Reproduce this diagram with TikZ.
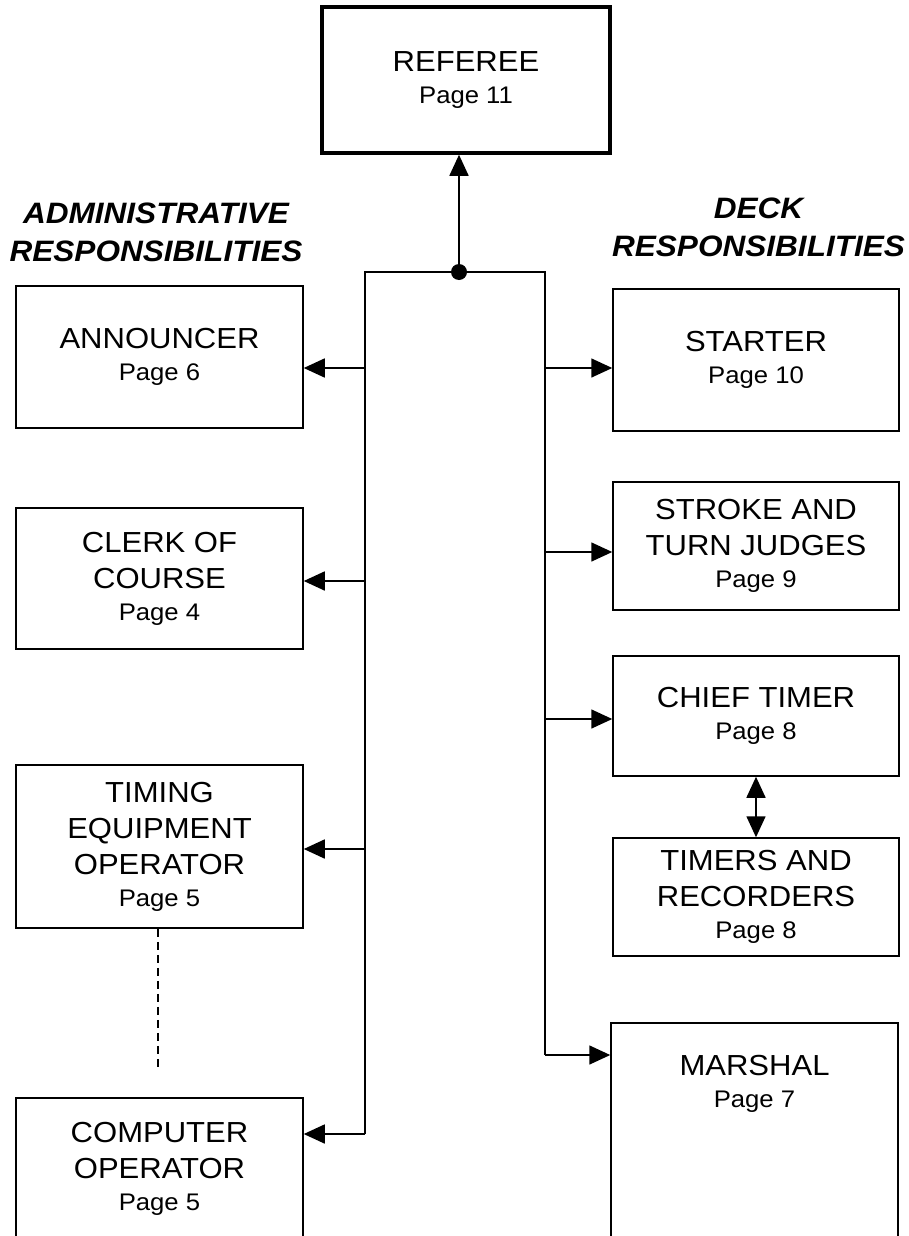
\documentclass[tikz,border=0pt]{standalone}
\usepackage{fontspec}
\setmainfont{Liberation Sans}[FakeStretch=1.07]
\usetikzlibrary{arrows.meta}
\newcommand{\pgline}[1]{\\[-4pt]{\fontsize{24}{29}\selectfont Page #1}}

\begin{document}
\begin{tikzpicture}[x=1pt,y=-1pt,
  boxtext/.style={align=center,inner sep=0pt,font=\fontsize{29}{36}\selectfont},
  box/.style={boxtext,draw,line width=1.5pt,minimum width=287pt},
  head/.style={align=center,font=\fontsize{29.5}{38}\selectfont\bfseries\itshape},
  conn/.style={line width=1.6pt},
  tip/.tip={Triangle[length=21pt,width=19pt]},
  arr/.style={conn,-tip}]
\useasboundingbox (0,0) rectangle (909,1236);
\clip (0,0) rectangle (909,1236);
% top
\node[box,line width=3.5pt,minimum width=288pt,minimum height=146pt] (referee) at (466,80) {REFEREE\pgline{11}};
\node[head] (admin) at (156,232.5) {ADMINISTRATIVE\\RESPONSIBILITIES};
\node[head] (deck) at (758.5,227.5) {DECK\\RESPONSIBILITIES};
% administrative side
\node[box,minimum height=142pt] (announcer) at (159.5,357) {ANNOUNCER\pgline{6}};
\node[box,minimum height=141pt] (clerk) at (159.5,578.5) {CLERK OF\\COURSE\pgline{4}};
\node[box,minimum height=163pt] (timing) at (159.5,846.5) {TIMING\\EQUIPMENT\\OPERATOR\pgline{5}};
\node[box,minimum height=141pt] (computer) at (159.5,1168.5) {COMPUTER\\OPERATOR\pgline{5}};
% deck side
\node[box,minimum width=286pt,minimum height=142pt] (starter) at (756,360) {STARTER\pgline{10}};
\node[box,minimum width=286pt,minimum height=128pt] (stroke) at (756,546) {STROKE AND\\TURN JUDGES\pgline{9}};
\node[box,minimum width=286pt,minimum height=120pt] (chief) at (756,716) {CHIEF TIMER\pgline{8}};
\node[box,minimum width=286pt,minimum height=118pt] (timers) at (756,897) {TIMERS AND\\RECORDERS\pgline{8}};
\node[box,minimum height=240pt] (marshal) at (754.5,1143) {};
\node[boxtext] (marshaltxt) at (754.5,1084) {MARSHAL\pgline{7}};
% bus
\coordinate (hub) at (459,272);
\coordinate (ltop) at (365,272);
\coordinate (rtop) at (545,272);
\foreach \n/\y in {1/368,2/581,3/849,4/1134}
  \coordinate (l\n) at (365,\y);
\foreach \n/\y in {1/368,2/552,3/719,4/1055}
  \coordinate (r\n) at (545,\y);
\draw[conn] (l4) -- (ltop) -- (rtop) -- (r4);
\fill (hub) circle (8pt);
\draw[arr] (hub) -- (hub |- referee.south);
% branches
\foreach \n/\b in {1/announcer,2/clerk,3/timing,4/computer}
  \draw[arr] (l\n) -- (l\n -| \b.east);
\foreach \n/\b in {1/starter,2/stroke,3/chief,4/marshal}
  \draw[arr] (r\n) -- (r\n -| \b.west);
\draw[conn,tip-tip] (chief.south) -- (timers.north);
% timing to computer
\coordinate (dashend) at (158,1071);
\draw[conn,dash pattern=on 8pt off 5pt] (timing.south -| dashend) -- (dashend);
\end{tikzpicture}
\end{document}
